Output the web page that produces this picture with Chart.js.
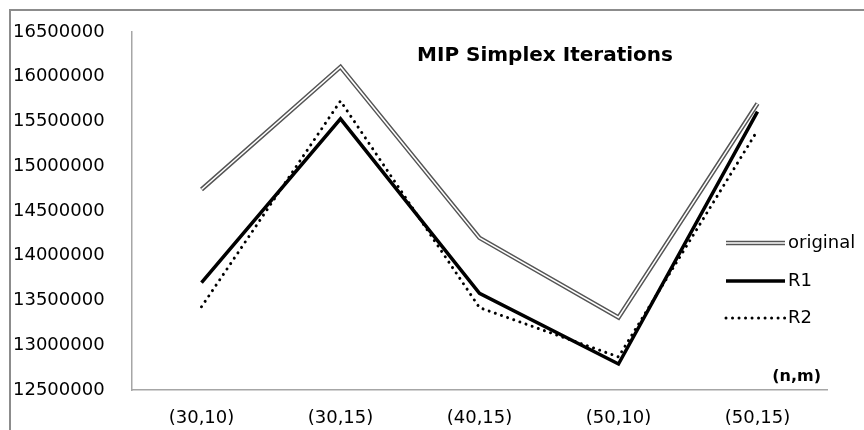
<!DOCTYPE html>
<html>
<head>
<meta charset="utf-8">
<script src="https://cdn.jsdelivr.net/npm/chart.js@4.4.0/dist/chart.umd.min.js"></script>
<style>
  html, body { margin: 0; padding: 0; background: #fff; }
  canvas { display: block; }
</style>
</head>
<body>
<canvas id="chart" width="864" height="430"></canvas>
<script>
// categories (n,m)
const categories = ['(30,10)', '(30,15)', '(40,15)', '(50,10)', '(50,15)'];

// MIP simplex iterations per instance size
const original = [14740000, 16110000, 14200000, 13310000, 15700000];
const r1 = [13700000, 15530000, 13580000, 12790000, 15610000];
const r2 = [13430000, 15730000, 13420000, 12870000, 15400000];

const yMin = 12500000;
const yMax = 16500000;
const yStep = 500000;

const FONT = '"DejaVu Sans", sans-serif';

/**
 * Legend, title, axis caption and the frame round the picture.
 * Chart.js' own legend cannot draw a double line, so it is drawn here.
 */
const decorations = {
  id: 'decorations',
  beforeDraw: function (chart) {
    let ctx = chart.ctx;
    ctx.save();
    ctx.strokeStyle = '#8c8c8c';
    ctx.lineWidth = 2;
    ctx.beginPath();
    ctx.moveTo(10, 430);
    ctx.lineTo(10, 10);
    ctx.lineTo(864, 10);
    ctx.stroke();
    ctx.restore();
  },
  afterDraw: function (chart) {
    let ctx = chart.ctx;
    ctx.save();

    ctx.fillStyle = '#000';
    ctx.font = 'bold 20px ' + FONT;
    ctx.textAlign = 'center';
    ctx.textBaseline = 'middle';
    ctx.fillText('MIP Simplex Iterations', 545, 56);

    ctx.font = 'bold 16px ' + FONT;
    ctx.textAlign = 'right';
    ctx.fillText('(n,m)', 821, 377);

    let items = [
      { label: 'original', y: 243, kind: 'double' },
      { label: 'R1', y: 281, kind: 'solid' },
      { label: 'R2', y: 318, kind: 'dot' }
    ];
    let x0 = 726, x1 = 785;
    items.forEach(function (it) {
      ctx.beginPath();
      ctx.moveTo(x0, it.y);
      ctx.lineTo(x1, it.y);
      if (it.kind === 'double') {
        ctx.strokeStyle = '#555';
        ctx.lineWidth = 4.5;
        ctx.stroke();
        ctx.strokeStyle = '#fff';
        ctx.lineWidth = 1.5;
        ctx.stroke();
      } else if (it.kind === 'solid') {
        ctx.strokeStyle = '#000';
        ctx.lineWidth = 3.5;
        ctx.stroke();
      } else {
        ctx.strokeStyle = '#000';
        ctx.lineWidth = 3;
        ctx.lineCap = 'round';
        ctx.setLineDash([0.01, 6.5]);
        ctx.stroke();
        ctx.setLineDash([]);
        ctx.lineCap = 'butt';
      }
      ctx.fillStyle = '#000';
      ctx.font = '18px ' + FONT;
      ctx.textAlign = 'left';
      ctx.textBaseline = 'middle';
      ctx.fillText(it.label, x1 + 3, it.y);
    });

    ctx.restore();
  }
};

let context = document.getElementById('chart').getContext('2d');

new Chart(context, {
  type: 'line',
  data: {
    labels: categories,
    datasets: [
      {
        label: 'R1',
        data: r1,
        borderColor: '#000',
        borderWidth: 3.5,
        borderJoinStyle: 'miter',
        pointRadius: 0,
        order: 1
      },
      {
        label: 'R2',
        data: r2,
        borderColor: '#000',
        borderWidth: 3,
        borderDash: [0.01, 6.5],
        borderCapStyle: 'round',
        pointRadius: 0,
        order: 2
      },
      {
        // white core of the double line
        label: 'original-core',
        data: original,
        borderColor: '#fff',
        borderWidth: 1.5,
        borderJoinStyle: 'miter',
        pointRadius: 0,
        order: 3
      },
      {
        label: 'original',
        data: original,
        borderColor: '#555',
        borderWidth: 4.5,
        borderJoinStyle: 'miter',
        pointRadius: 0,
        order: 4
      }
    ]
  },
  options: {
    responsive: false,
    animation: false,
    devicePixelRatio: 1,
    layout: {
      padding: { left: 13, top: 32, right: 37, bottom: 0 }
    },
    plugins: {
      legend: { display: false },
      title: { display: false },
      tooltip: { enabled: false }
    },
    scales: {
      x: {
        type: 'category',
        offset: true,
        grid: { display: false, drawTicks: false },
        border: { display: true, color: '#a6a6a6', width: 1.5 },
        ticks: {
          color: '#000',
          font: { family: FONT, size: 18 },
          padding: 18,
          maxRotation: 0
        },
        afterFit: function (scale) { scale.height = 40; }
      },
      y: {
        min: yMin,
        max: yMax,
        grid: { display: false, drawTicks: false },
        border: { display: true, color: '#a6a6a6', width: 1.5 },
        ticks: {
          stepSize: yStep,
          color: '#000',
          crossAlign: 'far',
          font: { family: FONT, size: 18 },
          callback: function (v) { return String(v); }
        },
        afterFit: function (scale) { scale.width = 119; }
      }
    }
  },
  plugins: [decorations]
});
</script>
</body>
</html>
